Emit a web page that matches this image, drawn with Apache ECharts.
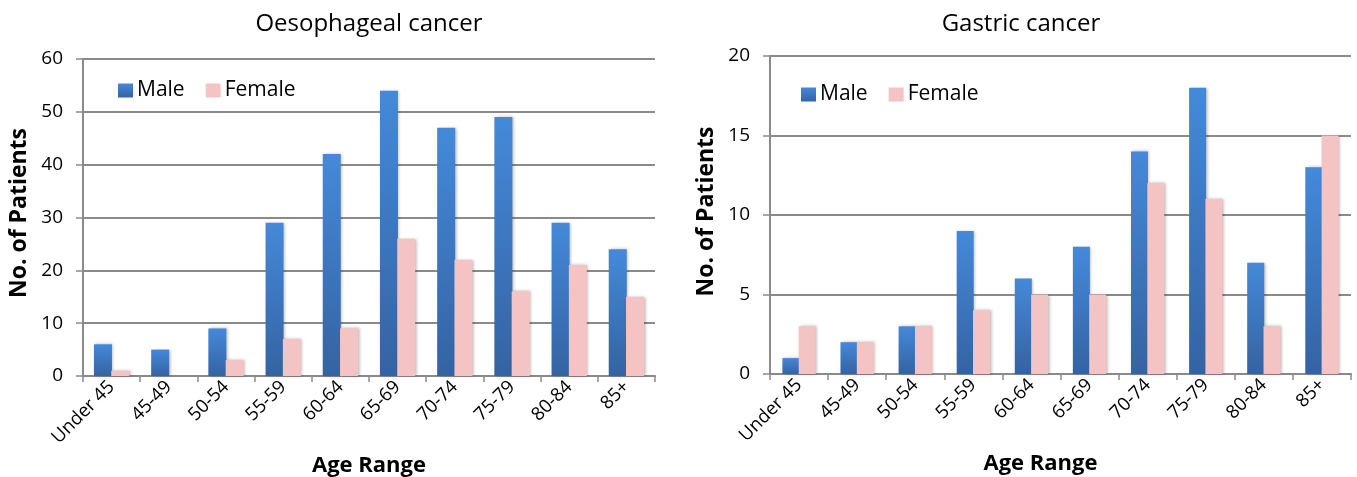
<!DOCTYPE html>
<html>
<head>
<meta charset="utf-8">
<script src="https://cdn.jsdelivr.net/npm/echarts@6/dist/echarts.min.js"></script>
<style>
  html, body { margin: 0; padding: 0; background: #fff; }
  #chart { width: 1357px; height: 477px; }
</style>
</head>
<body>
<div id="chart"></div>
<script>
// Age bands shared by both panels
const ageRanges = ['Under 45', '45-49', '50-54', '55-59', '60-64', '65-69', '70-74', '75-79', '80-84', '85+'];

// Oesophageal cancer patient counts
const oesoMale   = [6, 5, 9, 29, 42, 54, 47, 49, 29, 24];
const oesoFemale = [1, 0, 3, 7, 9, 26, 22, 16, 21, 15];

// Gastric cancer patient counts
const gastricMale   = [1, 2, 3, 9, 6, 8, 14, 18, 7, 13];
const gastricFemale = [3, 2, 3, 4, 5, 5, 12, 11, 3, 15];

const FONT = '"Open Sans", "Liberation Sans", sans-serif';
const AXIS_GREY = '#8a8a8a';

const maleColor = new echarts.graphic.LinearGradient(0, 0, 0, 1, [
  { offset: 0, color: '#4589da' },
  { offset: 1, color: '#3463a2' }
]);
const femaleColor = '#f4c3c3';

const barShadow = {
  shadowBlur: 3,
  shadowColor: 'rgba(0,0,0,0.28)',
  shadowOffsetX: 1.5,
  shadowOffsetY: 0
};

function xAxisFor(gridIndex, namePadding) {
  return {
    type: 'category',
    gridIndex,
    data: ageRanges,
    name: 'Age Range',
    nameLocation: 'middle',
    nameGap: 71,
    nameTextStyle: { fontFamily: FONT, fontSize: 22, fontWeight: 'bold', color: '#000', padding: namePadding },
    axisLine: { lineStyle: { color: AXIS_GREY, width: 2 } },
    axisTick: { show: true, length: 6, lineStyle: { color: AXIS_GREY, width: 1.5 } },
    axisLabel: { rotate: 45, fontFamily: FONT, fontSize: 18.5, color: '#000', margin: 8, interval: 0 }
  };
}

function yAxisFor(gridIndex, max, interval, namePadding) {
  return {
    type: 'value',
    gridIndex,
    min: 0,
    max,
    interval,
    name: 'No. of Patients',
    nameLocation: 'middle',
    nameRotate: 90,
    nameGap: 52,
    nameTextStyle: { fontFamily: FONT, fontSize: 23, fontWeight: 'bold', color: '#000', padding: namePadding },
    axisLine: { show: true, lineStyle: { color: AXIS_GREY, width: 2 } },
    axisTick: { show: true, length: 7, lineStyle: { color: AXIS_GREY, width: 1.5 } },
    axisLabel: { fontFamily: FONT, fontSize: 19, color: '#000', margin: 20 },
    splitLine: { lineStyle: { color: AXIS_GREY, width: 2 } }
  };
}

function legendFor(left, top) {
  return {
    left, top,
    data: ['Male', 'Female'],
    icon: 'rect',
    itemWidth: 15,
    itemHeight: 14,
    itemGap: 21,
    textStyle: { fontFamily: FONT, fontSize: 21, color: '#000', padding: [0, 0, 0, -1] },
    selectedMode: false
  };
}

function barSeries(name, data, axisIndex, color, width) {
  return {
    name,
    type: 'bar',
    xAxisIndex: axisIndex,
    yAxisIndex: axisIndex,
    data,
    barWidth: width,
    barGap: '-4%',
    itemStyle: Object.assign({ color }, barShadow),
    emphasis: { disabled: true }
  };
}

const chart = echarts.init(document.getElementById('chart'), null, { renderer: 'canvas' });

chart.setOption({
  animation: false,
  backgroundColor: '#fff',
  title: [
    { text: 'Oesophageal cancer', left: 364, top: 7, textAlign: 'center',
      textStyle: { fontFamily: FONT, fontSize: 24, fontWeight: 'normal', color: '#000' } },
    { text: 'Gastric cancer', left: 1016, top: 7, textAlign: 'center',
      textStyle: { fontFamily: FONT, fontSize: 24, fontWeight: 'normal', color: '#000' } }
  ],
  legend: [legendFor(113, 75), legendFor(796, 79)],
  grid: [
    { left: 83, right: 702, top: 59, bottom: 101, containLabel: false, outerBoundsMode: 'none' },
    { left: 770, right: 6, top: 56, bottom: 103, containLabel: false, outerBoundsMode: 'none' }
  ],
  xAxis: [xAxisFor(0, [0, 0, 0, 0]), xAxisFor(1, [0, 40, 0, 0])],
  yAxis: [yAxisFor(0, 60, 10, [0, 0, 0, 9]), yAxisFor(1, 20, 5, [0, 0, 0, 7])],
  series: [
    barSeries('Male', oesoMale, 0, maleColor, 18),
    barSeries('Female', oesoFemale, 0, femaleColor, 18),
    barSeries('Male', gastricMale, 1, maleColor, 17),
    barSeries('Female', gastricFemale, 1, femaleColor, 17)
  ]
});
</script>
</body>
</html>
